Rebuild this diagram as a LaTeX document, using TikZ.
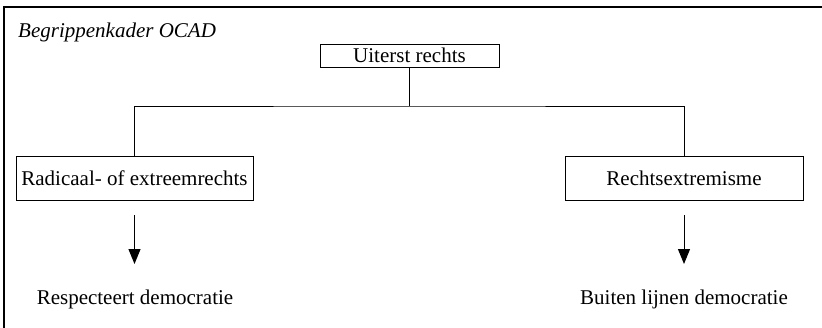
\documentclass[tikz,border=0pt]{standalone}
\usepackage{fontspec}
\setmainfont{Liberation Serif}
\usetikzlibrary{arrows.meta}
\begin{document}
\begin{tikzpicture}[x=1pt,y=-1pt,
  box/.style={draw,line width=1pt,rectangle,inner sep=0pt,font=\fontsize{21}{24}\selectfont},
  lbl/.style={inner sep=0pt,font=\fontsize{21}{24}\selectfont,anchor=base},
  conn/.style={line width=1pt},
  arr/.style={line width=1pt,-{Triangle[width=12pt,length=15pt]}},
  frame/.style={line width=1.4pt}]
\useasboundingbox (0,0) rectangle (822,327);
% frame (only top and left edges visible)
\coordinate (fbl) at (4,330);
\coordinate (ftl) at (4,7);
\coordinate (ftr) at (825,7);
\draw[frame] (fbl) -- (ftl) -- (ftr);
\node[inner sep=0pt,anchor=base west,font=\fontsize{21}{24}\selectfont\itshape] (title) at (18,37) {Begrippenkader OCAD};
% boxes
\node[box,minimum width=179pt,minimum height=23pt] (top) at (409.5,55.5) {Uiterst rechts};
\node[box,minimum width=237pt,minimum height=44pt] (left) at (134.5,178) {Radicaal- of extreemrechts};
\node[box,minimum width=238pt,minimum height=44pt] (right) at (684,178) {Rechtsextremisme};
% connectors
\coordinate (j) at (409.5,106);
\draw[conn] (top.south) -- (j);
\draw[conn] (left.north) |- (j) -| (right.north);
% arrows
\coordinate (la) at (134.5,215);
\coordinate (lb) at (134.5,264);
\coordinate (ra) at (684,215);
\coordinate (rb) at (684,264);
\draw[arr] (la) -- (lb);
\draw[arr] (ra) -- (rb);
% outcome labels
\node[lbl] (resp) at (135,304) {Respecteert democratie};
\node[lbl] (buit) at (684,304) {Buiten lijnen democratie};
\end{tikzpicture}
\end{document}
